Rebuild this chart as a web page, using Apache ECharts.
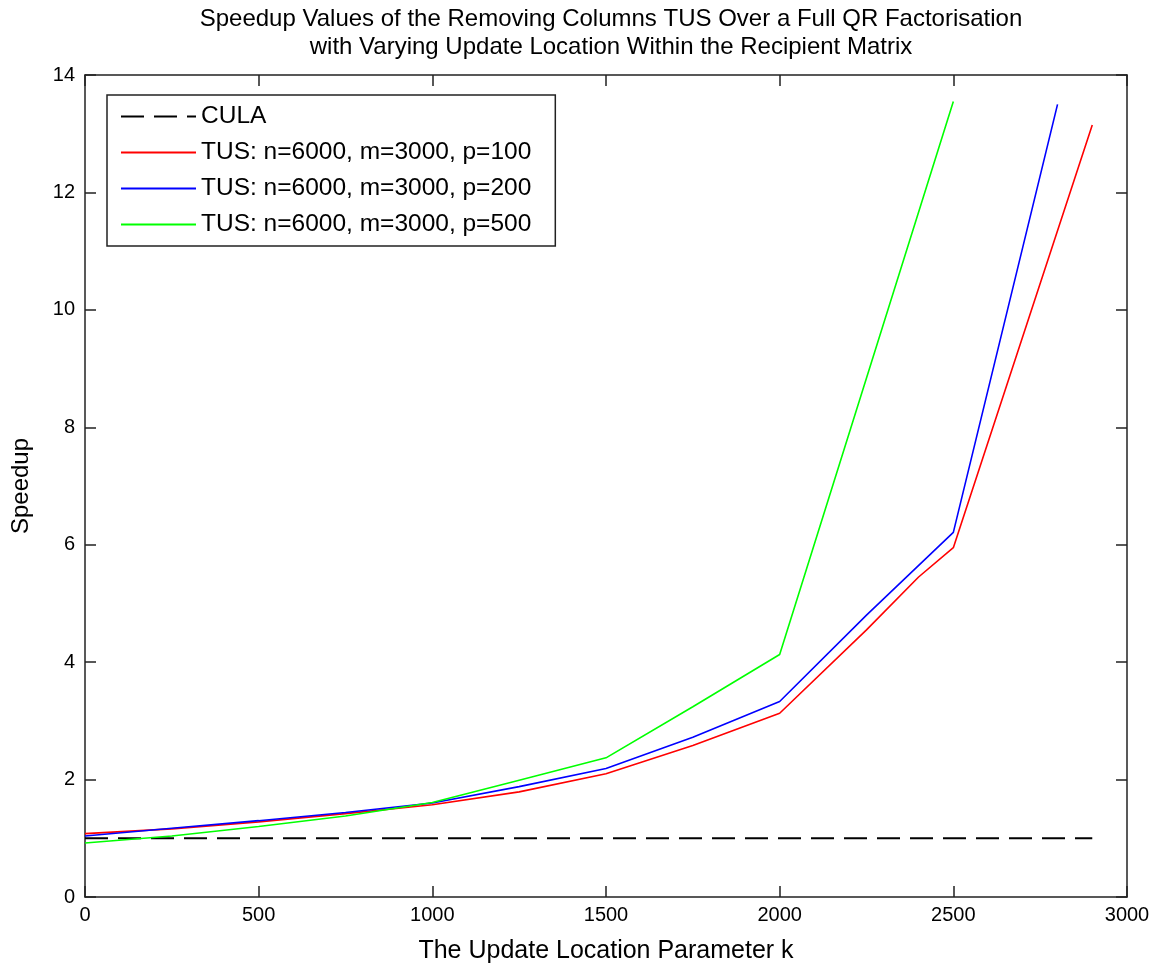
<!DOCTYPE html>
<html>
<head>
<meta charset="utf-8">
<script src="https://cdn.jsdelivr.net/npm/echarts@6/dist/echarts.min.js"></script>
<style>html,body{margin:0;padding:0;background:#fff;}#chart{width:1171px;height:969px;}</style>
</head>
<body>
<div id="chart"></div>
<script>
const titleText = 'Speedup Values of the Removing Columns TUS Over a Full QR Factorisation\nwith Varying Update Location Within the Recipient Matrix';
const xAxisName = 'The Update Location Parameter k';
const yAxisName = 'Speedup';
const seriesNames = ['CULA', 'TUS: n=6000, m=3000, p=100', 'TUS: n=6000, m=3000, p=200', 'TUS: n=6000, m=3000, p=500'];

const culaK = [0, 2900];
const culaSpeedup = [1, 1];

const p100K = [0, 250, 500, 750, 1000, 1250, 1500, 1750, 2000, 2250, 2400, 2500, 2900];
const p100Speedup = [1.08, 1.16, 1.28, 1.42, 1.57, 1.79, 2.10, 2.58, 3.13, 4.55, 5.45, 5.95, 13.15];

const p200K = [0, 250, 500, 750, 1000, 1250, 1500, 1750, 2000, 2250, 2500, 2800];
const p200Speedup = [1.04, 1.17, 1.30, 1.44, 1.60, 1.88, 2.19, 2.72, 3.33, 4.80, 6.21, 13.5];

const p500K = [0, 250, 500, 750, 1000, 1250, 1500, 1750, 2000, 2500];
const p500Speedup = [0.92, 1.04, 1.20, 1.38, 1.61, 1.99, 2.37, 3.24, 4.13, 13.55];

const xTicks = [0, 500, 1000, 1500, 2000, 2500, 3000];
const yTicks = [0, 2, 4, 6, 8, 10, 12, 14];

function pairs(xs, ys) { return xs.map((x, i) => [x, ys[i]]); }

const FONT = 'Liberation Sans, Arial, sans-serif';
const chart = echarts.init(document.getElementById('chart'), null, {renderer: 'canvas'});
const axisLineStyle = {color: '#222', width: 1.5};
chart.setOption({
  animation: false,
  backgroundColor: '#fff',
  title: {
    text: titleText,
    left: 606, textAlign: 'center', top: 0,
    textStyle: {fontFamily: FONT, fontSize: 24, fontWeight: 'normal', color: '#000', lineHeight: 28}
  },
  grid: {left: 85, right: 44, top: 75, bottom: 72, containLabel: false},
  legend: {
    orient: 'vertical', left: 107, top: 95,
    padding: [9, 24, 9, 13],
    borderColor: '#222', borderWidth: 1.5, backgroundColor: '#fff',
    itemWidth: 75, itemHeight: 24, itemGap: 11,
    itemStyle: {opacity: 0, color: 'transparent', borderWidth: 0},
    textStyle: {fontFamily: FONT, fontSize: 24.5, color: '#000', lineHeight: 24},
    data: seriesNames
  },
  xAxis: [{
    type: 'value', min: xTicks[0], max: xTicks[xTicks.length - 1], interval: 500,
    name: xAxisName, nameLocation: 'middle', nameGap: 42,
    nameTextStyle: {fontFamily: FONT, fontSize: 25, color: '#000'},
    axisLine: {show: true, onZero: false, lineStyle: axisLineStyle},
    axisTick: {show: true, inside: true, length: 11, lineStyle: axisLineStyle},
    axisLabel: {fontFamily: FONT, fontSize: 20, color: '#000', margin: 8, formatter: v => String(v)},
    splitLine: {show: false}
  }, {
    type: 'value', position: 'top', min: xTicks[0], max: xTicks[xTicks.length - 1], interval: 500,
    axisLine: {show: true, onZero: false, lineStyle: axisLineStyle},
    axisTick: {show: true, inside: true, length: 11, lineStyle: axisLineStyle},
    axisLabel: {show: false}, splitLine: {show: false}
  }],
  yAxis: [{
    type: 'value', min: yTicks[0], max: yTicks[yTicks.length - 1], interval: 2,
    name: yAxisName, nameLocation: 'middle', nameGap: 52, nameRotate: 90,
    nameTextStyle: {fontFamily: FONT, fontSize: 24, color: '#000'},
    axisLine: {show: true, onZero: false, lineStyle: axisLineStyle},
    axisTick: {show: true, inside: true, length: 11, lineStyle: axisLineStyle},
    axisLabel: {fontFamily: FONT, fontSize: 20, color: '#000', margin: 10},
    splitLine: {show: false}
  }, {
    type: 'value', position: 'right', min: yTicks[0], max: yTicks[yTicks.length - 1], interval: 2,
    axisLine: {show: true, onZero: false, lineStyle: axisLineStyle},
    axisTick: {show: true, inside: true, length: 11, lineStyle: axisLineStyle},
    axisLabel: {show: false}, splitLine: {show: false}
  }],
  series: [
    {name: seriesNames[0], type: 'line', symbol: 'none', data: pairs(culaK, culaSpeedup),
     lineStyle: {color: '#000', width: 2, type: [23, 10]}, itemStyle: {color: '#000'}},
    {name: seriesNames[1], type: 'line', symbol: 'none', data: pairs(p100K, p100Speedup),
     lineStyle: {color: '#ff0000', width: 1.6}, itemStyle: {color: '#ff0000'}},
    {name: seriesNames[2], type: 'line', symbol: 'none', data: pairs(p200K, p200Speedup),
     lineStyle: {color: '#0000ff', width: 1.6}, itemStyle: {color: '#0000ff'}},
    {name: seriesNames[3], type: 'line', symbol: 'none', data: pairs(p500K, p500Speedup),
     lineStyle: {color: '#00ff00', width: 1.6}, itemStyle: {color: '#00ff00'}}
  ]
});
</script>
</body>
</html>
